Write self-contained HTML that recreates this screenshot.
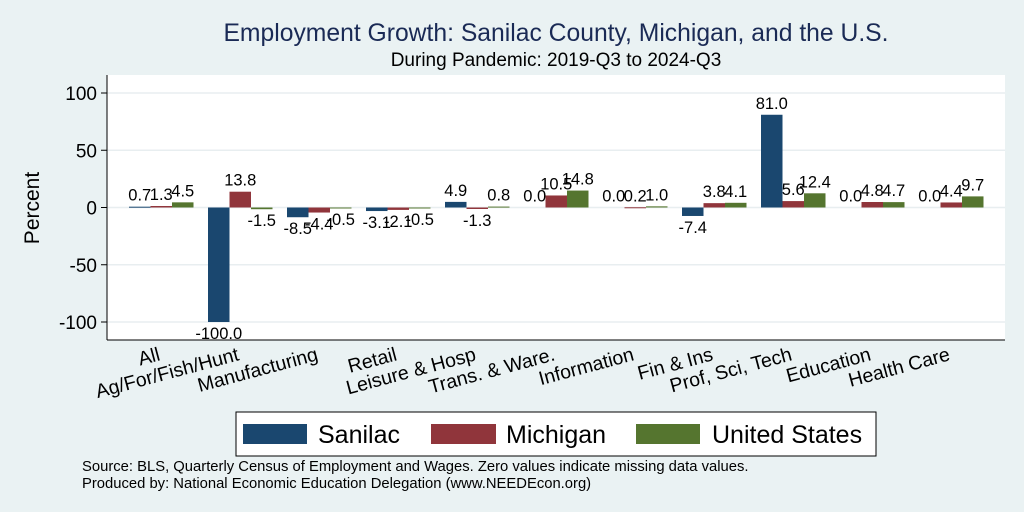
<!DOCTYPE html>
<html><head><meta charset="utf-8"><style>
body{margin:0;background:#eaf2f3;}
svg{display:block;font-family:"Liberation Sans",Arial,sans-serif;}
</style></head><body>
<svg id="c" width="1024" height="512" xmlns="http://www.w3.org/2000/svg">
<rect x="0" y="0" width="1024" height="512" fill="#eaf2f3"/>
<text x="556" y="41" text-anchor="middle" font-size="24.7" fill="#1a2a55">Employment Growth: Sanilac County, Michigan, and the U.S.</text>
<text x="556" y="66" text-anchor="middle" font-size="19" fill="#000">During Pandemic: 2019-Q3 to 2024-Q3</text>
<rect x="107" y="75" width="898" height="265" fill="#fff"/>
<g id="grid"></g>
<g id="bars"></g>
<g id="vals"></g>
<line x1="107" y1="75" x2="107" y2="340" stroke="#000" stroke-width="1"/>
<line x1="107" y1="340" x2="1005" y2="340" stroke="#000" stroke-width="1"/>
<g id="yt"></g>
<g id="xl"></g>
<text transform="translate(39,208) rotate(-90)" text-anchor="middle" font-size="21">Percent</text>
<g>
<rect x="236" y="412" width="640" height="44" fill="#fff" stroke="#000" stroke-width="1"/>
<rect x="243" y="424" width="64" height="20" fill="#1a476f"/>
<text x="318" y="443" font-size="25">Sanilac</text>
<rect x="431" y="424" width="65" height="20" fill="#90353b"/>
<text x="506" y="443" font-size="25">Michigan</text>
<rect x="636" y="424" width="64" height="20" fill="#55752f"/>
<text x="712" y="443" font-size="25">United States</text>
</g>
<text x="82" y="471" font-size="14.8">Source: BLS, Quarterly Census of Employment and Wages. Zero values indicate missing data values.</text>
<text x="82" y="488" font-size="14.8">Produced by: National Economic Education Delegation (www.NEEDEcon.org)</text>
</svg>
<script>
const categories=["All","Ag/For/Fish/Hunt","Manufacturing","Retail","Leisure & Hosp","Trans. & Ware.","Information","Fin & Ins","Prof, Sci, Tech","Education","Health Care"];
const sanilac=[0.7,-100.0,-8.5,-3.1,4.9,0.0,0.0,-7.4,81.0,0.0,0.0];
const michigan=[1.3,13.8,-4.4,-2.1,-1.3,10.5,0.2,3.8,5.6,4.8,4.4];
const us=[4.5,-1.5,-0.5,-0.5,0.8,14.8,1.0,4.1,12.4,4.7,9.7];
const yTicks=[-100,-50,0,50,100];
const NS="http://www.w3.org/2000/svg";
function y(v){return 207.5-v*1.145;}
function gx(i){return 129+i*79;}
const BW=21.5;
function mk(tag,attrs,parent){const e=document.createElementNS(NS,tag);for(const k in attrs)e.setAttribute(k,attrs[k]);document.getElementById(parent).appendChild(e);return e;}
yTicks.forEach(t=>{
 const g=mk('line',{x1:107,x2:1005,y1:y(t),y2:y(t),stroke:'#e8eef0','stroke-width':1.5},'grid');
 
 
 const tk=mk('line',{x1:101,x2:107,y1:y(t),y2:y(t),stroke:'#000'},'yt');
 
 
 const tl=mk('text',{x:97,y:y(t)+7,'text-anchor':'end','font-size':19},'yt');
 tl.textContent=t;
 
 
});
const series=[[sanilac,'#1a476f','sanilac'],[michigan,'#90353b','michigan'],[us,'#55752f','us']];
categories.forEach((c,i)=>{
 series.forEach((s,j)=>{
  const v=s[0][i];const x=gx(i)+j*BW;
  const top=Math.min(y(v),y(0)),h=Math.abs(y(v)-y(0));
  if(v!==0){
   const r=mk('rect',{x:x,y:top,width:BW,height:Math.max(h,1),fill:s[1]},'bars');
   
   
  }
  const t=mk('text',{x:x+BW/2,y:v>=0?y(v)-6:y(v)+17,'text-anchor':'middle','font-size':16.5},'vals');
  t.textContent=v.toFixed(1);
  
  
 });
 const cx=gx(i)+32;
 const l=mk('text',{transform:'translate('+cx+',360) rotate(-15)','text-anchor':'end','font-size':19.5},'xl');
 l.textContent=c;
 
 
});
</script>
</body></html>
